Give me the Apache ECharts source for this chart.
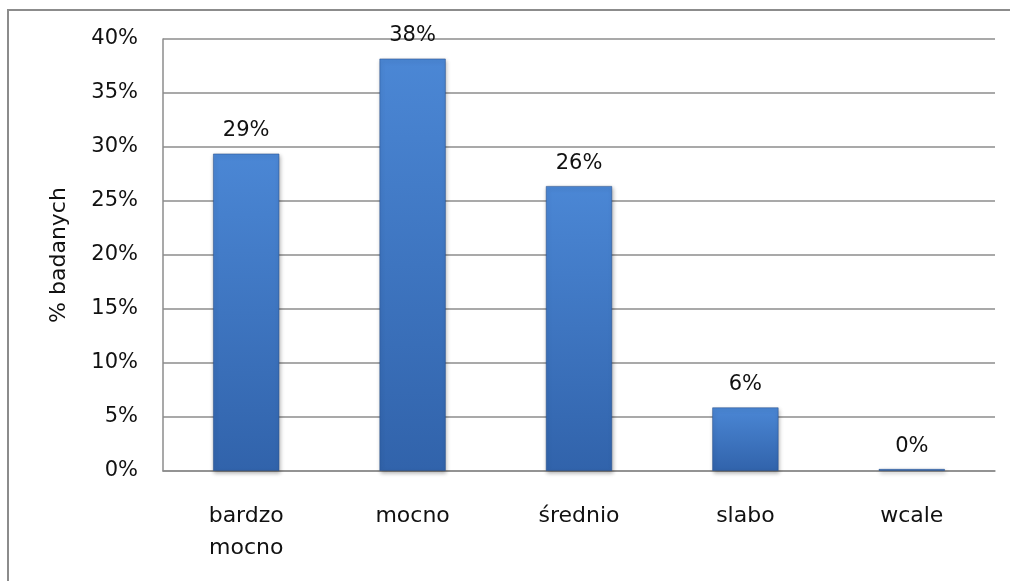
<!DOCTYPE html>
<html>
<head>
<meta charset="utf-8">
<script src="https://cdn.jsdelivr.net/npm/echarts@6/dist/echarts.min.js"></script>
<style>
  html, body { margin: 0; padding: 0; background: #fff; }
  #chart { width: 1010px; height: 581px; }
</style>
</head>
<body>
<div id="chart"></div>
<script>
// Survey answers and share of respondents (%)
const categories = ['bardzo\nmocno', 'mocno', 'średnio', 'slabo', 'wcale'];
const shares = [29.4, 38.2, 26.4, 5.9, 0.2];
const yTicks = { min: 0, max: 40, interval: 5 };
const yAxisTitle = '% badanych';

const FONT = '"DejaVu Sans", sans-serif';
const chart = echarts.init(document.getElementById('chart'));

chart.setOption({
  animation: false,
  backgroundColor: '#ffffff',
  graphic: [{
    type: 'rect',
    shape: { x: 8, y: 10, width: 1100, height: 700 },
    style: { fill: 'none', stroke: '#8c8c8c', lineWidth: 2 },
    silent: true
  }],
  grid: { left: 163, right: 15, top: 39, bottom: 110, containLabel: false },
  xAxis: {
    type: 'category',
    data: categories,
    axisLine: { show: true, lineStyle: { color: '#8c8c8c', width: 1.5 } },
    axisTick: { show: false },
    axisLabel: {
      color: '#111', fontFamily: FONT, fontSize: 22,
      lineHeight: 32, margin: 29, interval: 0, align: 'center'
    }
  },
  yAxis: {
    type: 'value',
    min: yTicks.min, max: yTicks.max, interval: yTicks.interval,
    name: yAxisTitle,
    nameLocation: 'middle',
    nameGap: 93,
    nameTextStyle: { color: '#111', fontFamily: FONT, fontSize: 22 },
    axisLine: { show: true, lineStyle: { color: '#8c8c8c', width: 1.5 } },
    axisTick: { show: false },
    splitLine: { lineStyle: { color: '#8c8c8c', width: 1.5 } },
    axisLabel: {
      color: '#111', fontFamily: FONT, fontSize: 21, margin: 25,
      formatter: v => v + '%'
    }
  },
  series: [{
    type: 'bar',
    data: shares,
    barWidth: '40%',
    itemStyle: {
      color: new echarts.graphic.LinearGradient(0, 0, 0, 1, [
        { offset: 0, color: '#4b87d5' },
        { offset: 1, color: '#3163ab' }
      ]),
      borderColor: 'rgba(40,80,140,0.55)',
      borderWidth: 1,
      shadowColor: 'rgba(0,0,0,0.3)',
      shadowBlur: 4,
      shadowOffsetX: 1,
      shadowOffsetY: 2
    },
    label: {
      show: true,
      position: 'top',
      distance: 12,
      color: '#111',
      fontFamily: FONT,
      fontSize: 21,
      formatter: p => Math.round(p.value) + '%'
    }
  }]
});
</script>
</body>
</html>
